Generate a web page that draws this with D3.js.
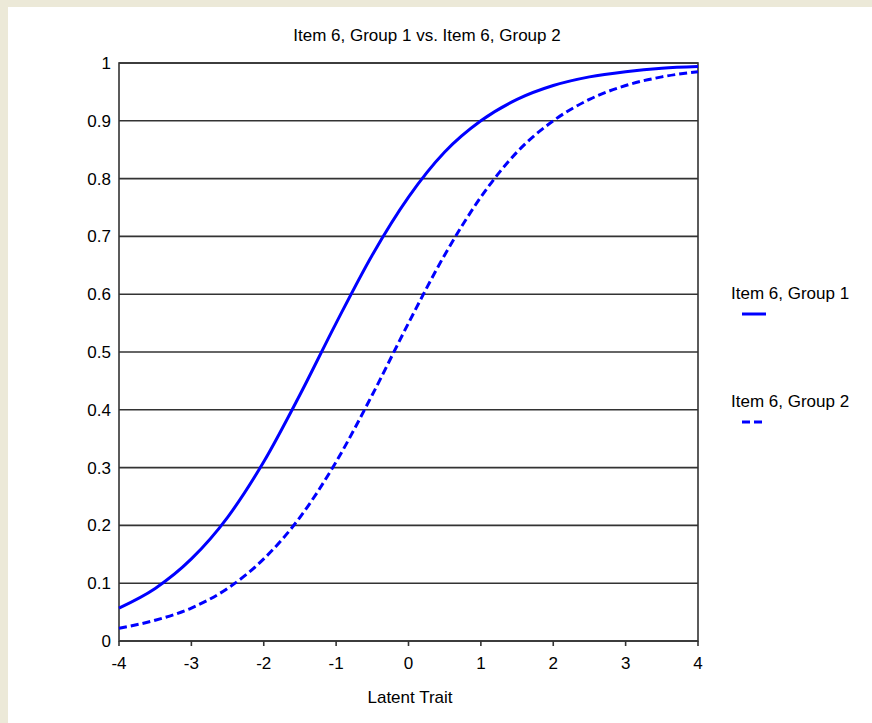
<!DOCTYPE html>
<html>
<head>
<meta charset="utf-8">
<script src="https://cdn.jsdelivr.net/npm/d3@7"></script>
<style>
  body { margin: 0; background: #ece9d8; }
  svg { display: block; }
  text { font-family: "Liberation Sans", Arial, sans-serif; fill: #000; }
</style>
</head>
<body>
<svg id="svg" width="872" height="723"></svg>
<script>
const SVG = d3.select("#svg"),
  W = 872,
  H = 723,
  FS = 17;

// latent trait values
var theta = [-4, -3.5, -3, -2.5, -2, -1.5, -1, -0.5, 0, 0.5, 1, 1.5, 2, 2.5, 3, 3.5, 4];
var group1 = [0.057, 0.091, 0.142, 0.214, 0.31, 0.426, 0.55, 0.668, 0.768, 0.846, 0.9, 0.937, 0.961, 0.976, 0.985, 0.991, 0.994];
var group2 = [0.022, 0.036, 0.057, 0.091, 0.142, 0.214, 0.31, 0.426, 0.55, 0.668, 0.768, 0.846, 0.9, 0.937, 0.961, 0.976, 0.985];
var seriesNames = ["Item 6, Group 1", "Item 6, Group 2"];
var xTicks = [-4, -3, -2, -1, 0, 1, 2, 3, 4];
var yTicks = [0, 0.1, 0.2, 0.3, 0.4, 0.5, 0.6, 0.7, 0.8, 0.9, 1];

var x = d3.scaleLinear().domain([-4, 4]).range([119, 698]),
  y = d3.scaleLinear().domain([0, 1]).range([641, 63]);

// white panel
SVG.append("rect")
  .attr("x", 8)
  .attr("y", 7)
  .attr("width", W - 8)
  .attr("height", H - 7)
  .attr("fill", "#fff");

SVG.append("text")
  .attr("x", 427)
  .attr("y", 41)
  .attr("text-anchor", "middle")
  .attr("font-size", FS)
  .text(seriesNames[0] + " vs. " + seriesNames[1]);

// gridlines
SVG.append("g")
  .selectAll("line")
  .data(yTicks)
  .join("line")
  .attr("x1", x(-4))
  .attr("x2", x(4))
  .attr("y1", (d) => y(d))
  .attr("y2", (d) => y(d))
  .attr("stroke", "#333")
  .attr("stroke-width", 1.6);

SVG.append("rect")
  .attr("x", x(-4))
  .attr("y", y(1))
  .attr("width", x(4) - x(-4))
  .attr("height", y(0) - y(1))
  .attr("fill", "none")
  .attr("stroke", "#333")
  .attr("stroke-width", 1.6);

// y labels
SVG.append("g")
  .selectAll("text")
  .data(yTicks)
  .join("text")
  .attr("x", 111)
  .attr("y", (d) => y(d))
  .attr("dy", "0.35em")
  .attr("text-anchor", "end")
  .attr("font-size", FS)
  .text((d) => d3.format("")(d));

// x axis ticks + labels
var xg = SVG.append("g").selectAll("g").data(xTicks).join("g");
xg.append("line")
  .attr("x1", (d) => x(d))
  .attr("x2", (d) => x(d))
  .attr("y1", y(0))
  .attr("y2", y(0) + 5)
  .attr("stroke", "#333")
  .attr("stroke-width", 1.6);
xg.append("text")
  .attr("x", (d) => x(d))
  .attr("y", 669)
  .attr("text-anchor", "middle")
  .attr("font-size", FS)
  .text((d) => d);

SVG.append("text")
  .attr("x", 410)
  .attr("y", 703)
  .attr("text-anchor", "middle")
  .attr("font-size", FS)
  .text("Latent Trait");

var line = d3
  .line()
  .x((d) => x(d[0]))
  .y((d) => y(d[1]))
  .curve(d3.curveMonotoneX);

SVG.append("path")
  .attr("d", line(d3.zip(theta, group1)))
  .attr("fill", "none")
  .attr("stroke", "#00f")
  .attr("stroke-width", 3);

SVG.append("path")
  .attr("d", line(d3.zip(theta, group2)))
  .attr("fill", "none")
  .attr("stroke", "#00f")
  .attr("stroke-width", 3)
  .attr("stroke-dasharray", "8,4");

// legend
var legY = [293, 401];
seriesNames.forEach((name, i) => {
  SVG.append("text")
    .attr("x", 731)
    .attr("y", legY[i])
    .attr("dy", "0.35em")
    .attr("font-size", FS)
    .text(name);
  SVG.append("line")
    .attr("x1", 742)
    .attr("x2", i == 0 ? 766 : 762)
    .attr("y1", legY[i] + 21)
    .attr("y2", legY[i] + 21)
    .attr("stroke", "#00f")
    .attr("stroke-width", 3)
    .attr("stroke-dasharray", i == 0 ? null : "8,4");
});
</script>
</body>
</html>
